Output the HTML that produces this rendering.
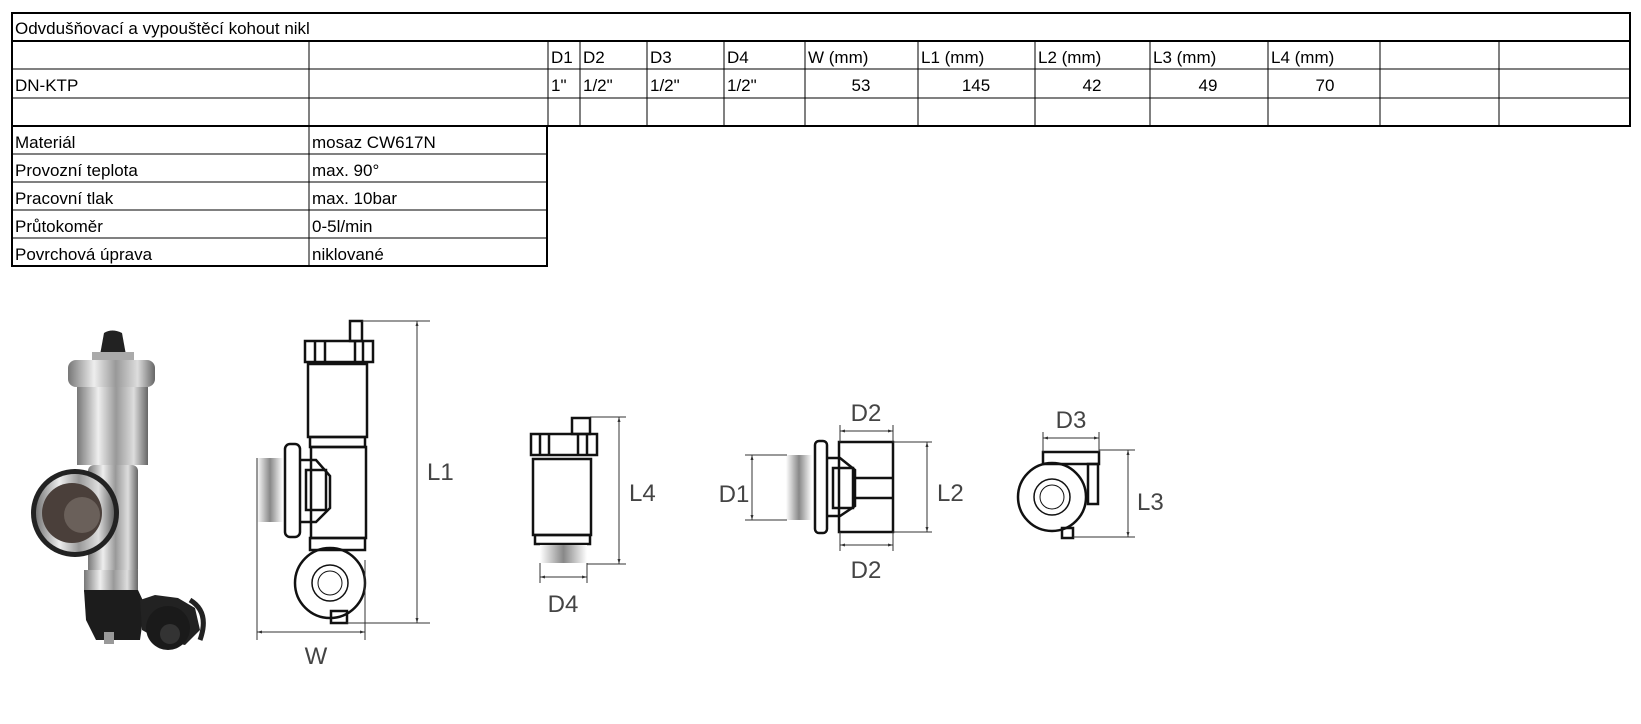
<!DOCTYPE html>
<html><head><meta charset="utf-8"><style>
html,body{margin:0;padding:0;background:#fff;}
svg{display:block}
.t{font-family:"Liberation Sans Narrow","Liberation Sans",sans-serif;font-size:17px;fill:#000}
.d{font-family:"Liberation Sans",sans-serif;font-size:24px;fill:#444}
</style></head><body>
<svg width="1641" height="724" viewBox="0 0 1641 724" xmlns="http://www.w3.org/2000/svg">
<defs>
<linearGradient id="met" x1="0" x2="1"><stop offset="0" stop-color="#777"/><stop offset="0.3" stop-color="#eee"/><stop offset="0.55" stop-color="#999"/><stop offset="0.8" stop-color="#ddd"/><stop offset="1" stop-color="#666"/></linearGradient>
<linearGradient id="thr" x1="0" x2="1"><stop offset="0" stop-color="#fff"/><stop offset="0.5" stop-color="#888"/><stop offset="1" stop-color="#fff"/></linearGradient>
<marker id="a" viewBox="0 0 10 10" refX="10" refY="5" markerWidth="5" markerHeight="5" orient="auto-start-reverse"><path d="M0,2 L10,5 L0,8z" fill="#333"/></marker>
</defs>
<g stroke="#000" fill="none">
<rect x="12" y="13" width="1618" height="113" stroke-width="2"/>
<line x1="12" y1="41" x2="1630" y2="41" stroke-width="2"/>
<line x1="12" y1="69" x2="1630" y2="69" stroke-width="1"/>
<line x1="12" y1="98" x2="1630" y2="98" stroke-width="1"/>
<g stroke-width="1">
<line x1="309" y1="41" x2="309" y2="126"/><line x1="548" y1="41" x2="548" y2="126"/><line x1="580" y1="41" x2="580" y2="126"/><line x1="647" y1="41" x2="647" y2="126"/><line x1="724" y1="41" x2="724" y2="126"/><line x1="805" y1="41" x2="805" y2="126"/><line x1="918" y1="41" x2="918" y2="126"/><line x1="1035" y1="41" x2="1035" y2="126"/><line x1="1150" y1="41" x2="1150" y2="126"/><line x1="1268" y1="41" x2="1268" y2="126"/><line x1="1380" y1="41" x2="1380" y2="126"/><line x1="1499" y1="41" x2="1499" y2="126"/>
</g>
<rect x="12" y="126" width="535" height="140" stroke-width="2"/>
<g stroke-width="1">
<line x1="12" y1="154" x2="547" y2="154"/><line x1="12" y1="182" x2="547" y2="182"/><line x1="12" y1="210" x2="547" y2="210"/><line x1="12" y1="238" x2="547" y2="238"/><line x1="309" y1="126" x2="309" y2="266"/>
</g>
</g>
<g class="t">
<text x="15" y="34">Odvdušňovací a vypouštěcí kohout nikl</text>
<text x="551" y="63">D1</text><text x="583" y="63">D2</text><text x="650" y="63">D3</text><text x="727" y="63">D4</text>
<text x="808" y="63">W (mm)</text><text x="921" y="63">L1 (mm)</text><text x="1038" y="63">L2 (mm)</text><text x="1153" y="63">L3 (mm)</text><text x="1271" y="63">L4 (mm)</text>
<text x="15" y="91">DN-KTP</text>
<text x="551" y="91">1"</text><text x="583" y="91">1/2"</text><text x="650" y="91">1/2"</text><text x="727" y="91">1/2"</text>
<text x="861" y="91" text-anchor="middle">53</text><text x="976" y="91" text-anchor="middle">145</text><text x="1092" y="91" text-anchor="middle">42</text><text x="1208" y="91" text-anchor="middle">49</text><text x="1325" y="91" text-anchor="middle">70</text>
<text x="15" y="148">Materiál</text><text x="312" y="148">mosaz CW617N</text>
<text x="15" y="176">Provozní teplota</text><text x="312" y="176">max. 90°</text>
<text x="15" y="204">Pracovní tlak</text><text x="312" y="204">max. 10bar</text>
<text x="15" y="232">Průtokoměr</text><text x="312" y="232">0-5l/min</text>
<text x="15" y="260">Povrchová úprava</text><text x="312" y="260">niklované</text>
</g>
<g>
<path d="M100,355 L104,333 Q112,328 122,333 L126,355z" fill="#222"/>
<rect x="92" y="352" width="42" height="10" fill="#aaa"/>
<rect x="68" y="360" width="87" height="27" rx="8" fill="url(#met)"/>
<rect x="77" y="387" width="71" height="78" fill="url(#met)"/>
<rect x="88" y="465" width="50" height="110" rx="6" fill="url(#met)"/>
<circle cx="75" cy="513" r="44" fill="#222"/>
<circle cx="75" cy="513" r="39" fill="url(#met)"/>
<circle cx="72" cy="513" r="30" fill="#4a3f3a"/>
<circle cx="82" cy="515" r="18" fill="#6a605a"/>
<rect x="84" y="570" width="54" height="22" fill="url(#met)"/>
<path d="M84,590 L138,590 L145,605 L140,640 L96,640 L86,620z" fill="#1c1c1c"/>
<path d="M140,600 L155,595 L178,598 L195,608 L200,630 L185,645 L160,640 L142,630z" fill="#222"/>
<circle cx="168" cy="628" r="22" fill="#1a1a1a"/>
<circle cx="170" cy="634" r="10" fill="#333"/>
<path d="M190,600 Q210,612 200,640" stroke="#222" stroke-width="5" fill="none"/>
<rect x="104" y="632" width="10" height="12" fill="#999"/>
</g>
<g fill="none" stroke="#111" stroke-width="2.5">
<rect x="350" y="321" width="12" height="20"/>
<rect x="305" y="341" width="68" height="21"/>
<line x1="315" y1="341" x2="315" y2="362"/><line x1="325" y1="341" x2="325" y2="362"/><line x1="355" y1="341" x2="355" y2="362"/><line x1="363" y1="341" x2="363" y2="362"/>
<rect x="308" y="364" width="59" height="73"/>
<rect x="310" y="437" width="55" height="10"/>
<rect x="311" y="447" width="55" height="91"/>
<rect x="285" y="444" width="15" height="93" rx="5"/>
<path d="M300,460 L316,460 L330,476 L330,508 L316,522 L300,522"/>
<rect x="306" y="470" width="20" height="40"/>
<rect x="310" y="538" width="55" height="12"/>
<circle cx="330" cy="583" r="35"/>
<circle cx="330" cy="583" r="18" stroke-width="1.5"/>
<circle cx="330" cy="583" r="12" stroke-width="1"/>
<rect x="331" y="611" width="16" height="12"/>
</g>
<rect x="257" y="458" width="26" height="64" fill="url(#thr)"/>
<g fill="none" stroke="#111" stroke-width="2.5">
<rect x="572" y="418" width="18" height="16"/>
<rect x="531" y="434" width="66" height="21"/>
<line x1="540" y1="434" x2="540" y2="455"/><line x1="549" y1="434" x2="549" y2="455"/><line x1="578" y1="434" x2="578" y2="455"/><line x1="587" y1="434" x2="587" y2="455"/>
<rect x="533" y="459" width="58" height="76"/>
<rect x="535" y="535" width="55" height="9"/>
</g>
<rect x="540" y="545" width="47" height="18" fill="url(#thr)"/>
<g fill="none" stroke="#111" stroke-width="2.5">
<rect x="815" y="441" width="12" height="92" rx="4"/>
<rect x="839" y="442" width="54" height="90"/>
<path d="M827,458 L840,458 L855,470 L855,506 L840,516 L827,516"/>
<rect x="833" y="468" width="20" height="40"/>
<line x1="855" y1="478" x2="893" y2="478"/><line x1="855" y1="498" x2="893" y2="498"/>
</g>
<rect x="786" y="455" width="26" height="65" fill="url(#thr)"/>
<g fill="none" stroke="#111" stroke-width="2.5">
<rect x="1043" y="452" width="56" height="12"/>
<rect x="1088" y="464" width="10" height="40"/>
<circle cx="1052" cy="497" r="34"/>
<circle cx="1052" cy="497" r="18" stroke-width="1.5"/>
<circle cx="1052" cy="497" r="12" stroke-width="1"/>
<rect x="1062" y="528" width="11" height="10"/>
</g>
<g stroke="#333" stroke-width="1" fill="none">
<line x1="362" y1="321" x2="430" y2="321"/><line x1="347" y1="623" x2="430" y2="623"/>
<line x1="417" y1="321" x2="417" y2="623" marker-start="url(#a)" marker-end="url(#a)"/>
<line x1="257" y1="458" x2="257" y2="640"/><line x1="365" y1="560" x2="365" y2="640"/>
<line x1="257" y1="632" x2="365" y2="632" marker-start="url(#a)" marker-end="url(#a)"/>
<line x1="590" y1="417" x2="626" y2="417"/><line x1="587" y1="564" x2="626" y2="564"/>
<line x1="619" y1="417" x2="619" y2="564" marker-start="url(#a)" marker-end="url(#a)"/>
<line x1="540" y1="563" x2="540" y2="583"/><line x1="587" y1="563" x2="587" y2="583"/>
<line x1="540" y1="577" x2="587" y2="577" marker-start="url(#a)" marker-end="url(#a)"/>
<line x1="745" y1="455" x2="787" y2="455"/><line x1="745" y1="520" x2="787" y2="520"/>
<line x1="752" y1="455" x2="752" y2="520" marker-start="url(#a)" marker-end="url(#a)"/>
<line x1="840" y1="425" x2="840" y2="442"/><line x1="893" y1="425" x2="893" y2="442"/>
<line x1="840" y1="431" x2="893" y2="431" marker-start="url(#a)" marker-end="url(#a)"/>
<line x1="893" y1="442" x2="932" y2="442"/><line x1="893" y1="532" x2="932" y2="532"/>
<line x1="927" y1="442" x2="927" y2="532" marker-start="url(#a)" marker-end="url(#a)"/>
<line x1="840" y1="532" x2="840" y2="551"/><line x1="893" y1="532" x2="893" y2="551"/>
<line x1="840" y1="545" x2="893" y2="545" marker-start="url(#a)" marker-end="url(#a)"/>
<line x1="1043" y1="432" x2="1043" y2="452"/><line x1="1099" y1="432" x2="1099" y2="452"/>
<line x1="1043" y1="438" x2="1099" y2="438" marker-start="url(#a)" marker-end="url(#a)"/>
<line x1="1099" y1="450" x2="1135" y2="450"/><line x1="1073" y1="537" x2="1135" y2="537"/>
<line x1="1128" y1="450" x2="1128" y2="537" marker-start="url(#a)" marker-end="url(#a)"/>
</g>
<g class="d">
<text x="427" y="480">L1</text>
<text x="316" y="664" text-anchor="middle">W</text>
<text x="629" y="501">L4</text>
<text x="563" y="612" text-anchor="middle">D4</text>
<text x="734" y="502" text-anchor="middle">D1</text>
<text x="866" y="421" text-anchor="middle">D2</text>
<text x="937" y="501">L2</text>
<text x="866" y="578" text-anchor="middle">D2</text>
<text x="1071" y="428" text-anchor="middle">D3</text>
<text x="1137" y="510">L3</text>
</g>
</svg>
</body></html>
